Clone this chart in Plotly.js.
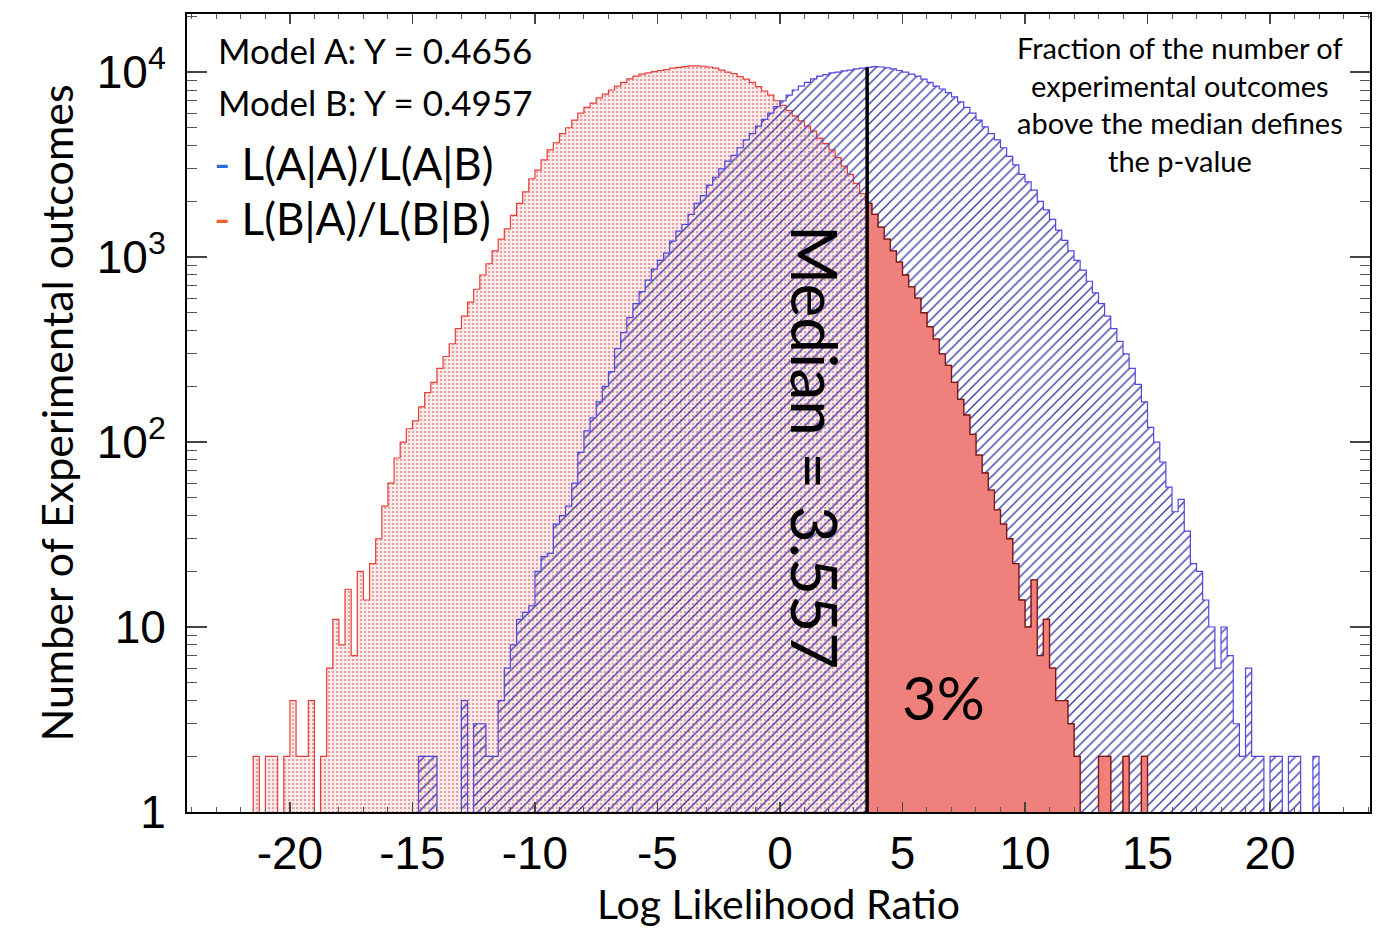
<!DOCTYPE html>
<html><head><meta charset="utf-8">
<script src="https://cdn.plot.ly/plotly-3.0.1.min.js"></script>
<style>html,body{margin:0;padding:0;background:#fff}#chart{width:1378px;height:929px}</style>
</head><body><div id="chart"></div>
<script>
// ---- data ----
const binWidth = 0.25;
// L(B|A)/L(B|B) histogram (red), bins starting at -22.0
const redStart = -22.0;
const redCounts = [
  0,0,2,0,   2,2,0,2,   4,2,2,4,   0,2,6,11,
  8,16,7,20, 14,22,30,45, 60,82,100,118, 130,155,185,210,
  250,290,340,410, 480,570,670,800, 920,1080,1250,1420, 1680,1950,2250,2650,
  2950,3350,3800,4150, 4650,5000,5500,6000, 6450,6800,7250,7600, 8000,8400,8800,9200,
  9500,9750,9900,10050, 10200,10300,10500,10600, 10700,10800,10800,10750, 10650,10500,10250,10000,
  9800,9450,9150,8800, 8350,7900,7500,7000, 6600,6200,5800,5450, 5100,4800,4400,4100,
  3800,3450,3100,2800, 2500,2200,1950,1700, 1450,1250,1080,940, 800,690,600,500,
  420,360,300,260, 210,170,140,110, 85,68,55,43, 36,30,22,14,
  10,18,7,11, 6,4,4,3, 2,0,0,0, 2,2,0,0, 2,0,0,2, 0
];
// L(A|A)/L(A|B) histogram (blue), bins starting at -15.0
const blueStart = -15.0;
const blueCounts = [
  0,2,2,2,   0,0,0,0,   4,0,3,3,   2,2,4,6,
  8,11,12,13, 20,24,25,36, 40,45,60,88, 115,135,165,200,
  240,320,390,470, 560,650,750,860, 960,1050,1220,1380, 1500,1700,1950,2150,
  2450,2700,3000,3300, 3550,3900,4300,4650, 5100,5550,6000,6500, 7000,7500,8000,8400,
  8800,9200,9500,9700, 9900,10000,10150,10250, 10400,10500,10600,10700, 10650,10550,10400,10200,
  10000,9750,9500,9150, 8800,8400,8100,7750, 7350,6900,6450,6000, 5500,5050,4650,4300,
  3900,3500,3150,2800, 2550,2300,2000,1800, 1600,1400,1230,1080, 960,850,740,640,
  560,480,410,350, 300,250,205,165, 120,100,78,57, 42,49,33,22,
  20,14,10,6, 10,7,3,2, 6,2,2,0, 2,2,0,2, 2,0,0,2, 0
];
const medianValue = 3.557;
const pValueLabel = '3%';
const modelAY = 0.4656;
const modelBY = 0.4957;

const xTickVals = [-20,-15,-10,-5,0,5,10,15,20];
const xTickText = ['-20','-15','-10','-5','0','5','10','15','20'];
const yTickVals = [1,10,100,1000,10000];
const yTickText = ['1','10','10<sup>2</sup>','10<sup>3</sup>','10<sup>4</sup>'];
const yMinorVals = [2,3,4,5,6,7,8,9,20,30,40,50,60,70,80,90,200,300,400,500,600,700,800,900,
                    2000,3000,4000,5000,6000,7000,8000,9000,20000];

// ---- build step outlines (empty bins drawn below the axis floor) ----
function stepXY(start, counts, fromIdx, firstX) {
  const x = [], y = [];
  for (let i = fromIdx; i < counts.length; i++) {
    x.push(i === fromIdx && firstX !== undefined ? firstX : start + i * binWidth);
    y.push(counts[i] > 0 ? counts[i] : 0.5);
  }
  x.push(start + counts.length * binWidth);
  y.push(y[y.length - 1]);
  return {x, y};
}
const red = stepXY(redStart, redCounts, 0);
const blue = stepXY(blueStart, blueCounts, 0);
const medIdxRed = Math.floor((medianValue - redStart) / binWidth);
const redTail = stepXY(redStart, redCounts, medIdxRed, medianValue);
const medIdxBlue = Math.floor((medianValue - blueStart) / binWidth);

const traces = [
  {x: red.x, y: red.y, type: 'scatter', mode: 'lines', line: {shape: 'hv', color: 'rgb(232,62,55)', width: 1.2},
   fill: 'tozeroy', fillpattern: {shape: '.', fgcolor: 'rgb(226,140,140)', bgcolor: 'rgb(250,234,234)', size: 4, solidity: 0.22},
   hoverinfo: 'skip'},
  {x: blue.x, y: blue.y, type: 'scatter', mode: 'lines', line: {shape: 'hv', color: 'rgb(80,70,225)', width: 1.2},
   fill: 'tozeroy', fillpattern: {shape: '/', fgcolor: 'rgb(60,60,170)', bgcolor: 'rgba(255,255,255,0)', size: 7, solidity: 0.2},
   hoverinfo: 'skip'},
  {x: redTail.x, y: redTail.y, type: 'scatter', mode: 'lines', line: {shape: 'hv', color: 'rgb(115,25,25)', width: 1.3},
   fill: 'tozeroy', fillcolor: 'rgb(240,128,124)', hoverinfo: 'skip'},
  {x: [medianValue, medianValue], y: [1, blueCounts[medIdxBlue]], type: 'scatter', mode: 'lines',
   line: {color: 'black', width: 3.5}, hoverinfo: 'skip'}
];

const plotL = 187, plotR = 1370, plotT = 14, plotB = 812;
const px = v => (v - plotL) / (plotR - plotL);
const py = v => (plotB - v) / (plotB - plotT);
const annFont = {family: 'Lato, "Open Sans", sans-serif', color: 'black'};

const layout = {
  width: 1378, height: 929,
  margin: {l: plotL, r: 1378 - plotR, t: plotT, b: 929 - plotB},
  paper_bgcolor: 'white', plot_bgcolor: 'white',
  showlegend: false,
  xaxis: {
    range: [-24.2, 24.08], tickmode: 'array', tickvals: xTickVals, ticktext: xTickText,
    ticks: 'inside', ticklen: 10, tickwidth: 1.5, tickcolor: '#444', mirror: 'allticks',
    showline: true, linecolor: 'black', linewidth: 2, showgrid: false, zeroline: false, automargin: false,
    tickfont: {family: '"Liberation Sans", Arial, sans-serif', size: 46, color: 'black'},
    minor: {tickmode: 'linear', tick0: 0, dtick: 1, ticks: 'inside', ticklen: 5, tickwidth: 1, tickcolor: '#555', showgrid: false},
    title: {text: 'Log Likelihood Ratio', font: {family: 'Lato, sans-serif', size: 41, color: 'black'}, standoff: 8}
  },
  yaxis: {
    type: 'log', range: [0, 4.314], tickmode: 'array', tickvals: yTickVals, ticktext: yTickText,
    ticks: 'inside', ticklen: 20, tickwidth: 1.5, tickcolor: '#444', mirror: 'allticks',
    showline: true, linecolor: 'black', linewidth: 2, showgrid: false, zeroline: false, automargin: false,
    tickfont: {family: '"Liberation Sans", Arial, sans-serif', size: 46, color: 'black'},
    ticklabelstandoff: 10,
    minor: {tickmode: 'array', tickvals: yMinorVals, ticks: 'inside', ticklen: 10, tickwidth: 1, tickcolor: '#555', showgrid: false},
    title: {text: 'Number of Experimental outcomes', font: {family: 'Lato, sans-serif', size: 43, color: 'black'}, standoff: 10}
  },
  annotations: [
    {xref: 'paper', yref: 'paper', x: px(216), y: py(50), xanchor: 'left', yanchor: 'middle', showarrow: false,
     text: 'Model A: Y = ' + modelAY.toFixed(4), font: Object.assign({size: 35}, annFont)},
    {xref: 'paper', yref: 'paper', x: px(216), y: py(102), xanchor: 'left', yanchor: 'middle', showarrow: false,
     text: 'Model B: Y = ' + modelBY.toFixed(4), font: Object.assign({size: 35}, annFont)},
    {xref: 'paper', yref: 'paper', x: px(212), y: py(163), xanchor: 'left', yanchor: 'middle', showarrow: false,
     text: '<span style="color:#2a6fd6">-</span> L(A|A)/L(A|B)', font: Object.assign({size: 44}, annFont)},
    {xref: 'paper', yref: 'paper', x: px(212), y: py(218), xanchor: 'left', yanchor: 'middle', showarrow: false,
     text: '<span style="color:#e8602c">-</span> L(B|A)/L(B|B)', font: Object.assign({size: 44}, annFont)},
    {xref: 'paper', yref: 'paper', x: px(1180), y: py(104), xanchor: 'center', yanchor: 'middle', showarrow: false,
     align: 'center', text: 'Fraction of the number of<br>experimental outcomes<br>above the median defines<br>the p-value',
     font: Object.assign({size: 29}, annFont)},
    {xref: 'paper', yref: 'paper', x: px(815), y: py(447), xanchor: 'center', yanchor: 'middle', showarrow: false,
     textangle: 90, text: 'Median = ' + medianValue, font: Object.assign({size: 64}, annFont)},
    {xref: 'paper', yref: 'paper', x: px(943), y: py(697), xanchor: 'center', yanchor: 'middle', showarrow: false,
     text: pValueLabel, font: Object.assign({size: 60}, annFont)}
  ]
};

Plotly.newPlot('chart', traces, layout, {staticPlot: true, displayModeBar: false});
</script>
</body></html>
